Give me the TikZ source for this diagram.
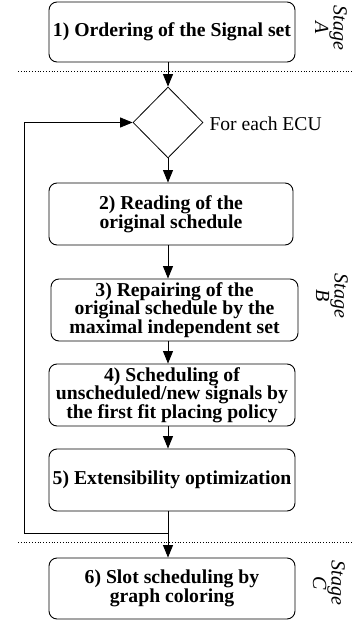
\documentclass[tikz,border=0pt]{standalone}
\usepackage{fontspec}
\setmainfont{Liberation Serif}
\usetikzlibrary{shapes.geometric,arrows.meta}
\begin{document}
\begin{tikzpicture}[x=1pt,y=-1pt,
  stepbox/.style={draw,rounded corners=8pt,line width=0.9pt,align=center,inner sep=0pt,
    font=\fontsize{19.7}{18.5}\selectfont\bfseries},
  arr/.style={line width=0.9pt,-{Triangle[length=12.5pt,width=10pt]}},
  sep/.style={dotted,line width=0.8pt},
  stagelbl/.style={rotate=-90,align=center,font=\fontsize{20}{16}\selectfont\itshape}]
\useasboundingbox (0,0) rectangle (352,620);
\node[stepbox,minimum width=246pt,minimum height=60pt] (b1) at (172,32) {1) Ordering of the Signal set};
\node[draw,diamond,line width=0.8pt,minimum width=70pt,minimum height=71pt,inner sep=0pt] (d) at (168,122.5) {};
\node[anchor=west,font=\fontsize{19.6}{19}\selectfont] (lbl) at (206,124) {For each ECU};
\node[stepbox,minimum width=244pt,minimum height=62pt] (b2) at (171,214) {2) Reading of the\\original schedule};
\node[stepbox,minimum width=247pt,minimum height=62pt] (b3) at (174.5,310) {3) Repairing of the\\original schedule by the\\maximal independent set};
\node[stepbox,minimum width=246pt,minimum height=62pt] (b4) at (172,395) {4) Scheduling of\\unscheduled/new signals by\\the first fit placing policy};
\node[stepbox,minimum width=246pt,minimum height=62pt] (b5) at (172,480) {\raisebox{3pt}{5) Extensibility optimization}};
\node[stepbox,minimum width=246pt,minimum height=61pt] (b6) at (172,588.5) {6) Slot scheduling by\\graph coloring};
\coordinate (ll) at (24,533);
\coordinate (lj) at (168,533);
\coordinate (sA0) at (18,71);
\coordinate (sA1) at (352,71);
\coordinate (sC0) at (18,542);
\coordinate (sC1) at (352,542);
\draw[sep] (sA0) -- (sA1);
\draw[sep] (sC0) -- (sC1);
\draw[arr] (b1.south -| d.north) -- (d.north);
\draw[arr] (d.south) -- (b2.north -| d.south);
\draw[arr] (b2.south -| d.south) -- (b3.north -| d.south);
\draw[arr] (b3.south -| d.south) -- (b4.north -| d.south);
\draw[arr] (b4.south -| d.south) -- (b5.north -| d.south);
\draw[arr] (b5.south -| d.south) -- (b6.north -| d.south);
\draw[arr] (lj) -- (ll) |- (d.west);
\node[stagelbl] (stA) at (331,28) {Stage\\A};
\node[stagelbl] (stB) at (332,296) {Stage\\B};
\node[stagelbl] (stC) at (329,583) {Stage\\C};
\end{tikzpicture}
\end{document}
